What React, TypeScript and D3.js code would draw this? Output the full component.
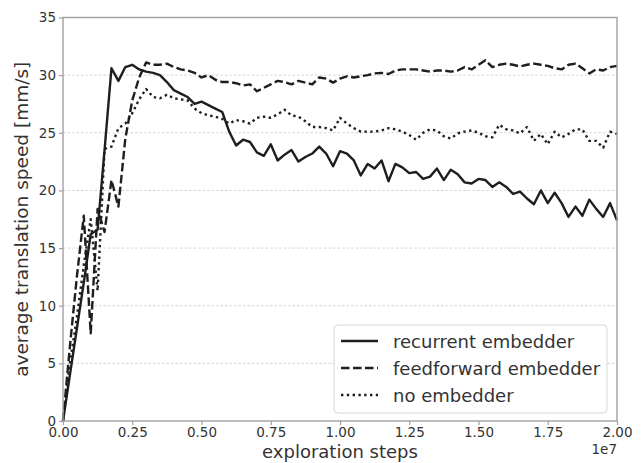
import React, { useEffect, useRef } from 'react'
import * as d3 from 'd3'

// sampled every 2.5e5 exploration steps
const STEP = 250000

const recurrent = [
  0, 4, 8, 12, 16.2, 16.6, 23.5, 30.6, 29.5, 30.7,
  30.9, 30.5, 30.3, 30.2, 30.0, 29.4, 28.7, 28.4, 28.1, 27.5,
  27.7, 27.4, 27.1, 26.8, 25.1, 23.9, 24.4, 24.2, 23.3, 23.0,
  24.0, 22.6, 23.1, 23.5, 22.5, 22.9, 23.2, 23.8, 23.2, 22.1,
  23.4, 23.2, 22.6, 21.3, 22.3, 21.9, 22.6, 20.8, 22.3, 22.0,
  21.5, 21.6, 21.0, 21.2, 21.9, 20.9, 21.8, 21.4, 20.7, 20.6,
  21.0, 20.9, 20.3, 20.7, 20.3, 19.7, 19.9, 19.3, 18.8, 20.0,
  18.9, 19.8, 18.9, 17.7, 18.6, 17.8, 19.2, 18.4, 17.7, 18.9,
  17.4,
]

const feedforward = [
  0, 6.5, 12.5, 17.8, 7.6, 18.4, 16.4, 20.9, 18.6, 24.5,
  27.8, 29.8, 31.1, 30.9, 30.9, 31.0, 30.7, 30.5, 30.4, 30.2,
  29.8, 30.0, 29.6, 29.4, 29.4, 29.3, 29.1, 29.2, 28.6, 28.9,
  29.2, 29.5, 29.4, 29.2, 29.5, 29.35, 29.2, 29.8, 29.7, 29.35,
  29.7, 29.9, 29.8, 29.9, 30.0, 30.15, 30.2, 30.1, 30.4, 30.5,
  30.5, 30.5, 30.4, 30.3, 30.4, 30.4, 30.3, 30.4, 30.7, 30.5,
  30.9, 31.3, 30.7, 30.9, 31.0, 30.9, 30.75, 30.9, 31.0, 30.9,
  30.8, 30.6, 30.5, 30.9, 31.0, 30.6, 30.15, 30.5, 30.4, 30.7,
  30.8,
]

const noEmbedder = [
  0, 5, 9, 13.5, 17.5, 11.3, 23.6, 23.8, 25.4, 25.8,
  26.7, 27.9, 28.8, 28.1, 28.0, 28.3, 28.0, 27.9, 27.8, 27.1,
  26.7, 26.5, 26.4, 26.2, 25.8, 26.1, 26.0, 25.8, 26.3, 26.4,
  26.3, 26.6, 27.0, 26.5, 26.4, 26.0, 25.5, 25.5, 25.4, 25.2,
  26.3, 25.8, 25.4, 25.1, 25.1, 25.1, 25.2, 25.4, 25.3, 25.1,
  24.8, 24.4, 25.0, 25.3, 25.2, 24.7, 24.5, 24.95, 25.1, 25.2,
  25.0, 24.7, 24.6, 25.7, 25.3, 25.2, 24.95, 25.5, 24.3, 24.9,
  24.0, 25.1, 24.6, 24.9, 25.3, 25.3, 24.3, 24.3, 23.7, 25.1,
  24.9,
]

const seriesNames = ['recurrent embedder', 'feedforward embedder', 'no embedder']
const xTicks = [0, 0.25e7, 0.5e7, 0.75e7, 1.0e7, 1.25e7, 1.5e7, 1.75e7, 2.0e7]
const xTickLabels = ['0.00', '0.25', '0.50', '0.75', '1.00', '1.25', '1.50', '1.75', '2.00']
const yTicks = [0, 5, 10, 15, 20, 25, 30, 35]

const App = () => {
  const svgRef = useRef(null)

  useEffect(() => {
    const width = 642
    const height = 463
    const margin = { top: 17.5, right: 25, bottom: 42, left: 63 }
    const font = 'DejaVu Sans, sans-serif'
    const ink = '#1e1e1e'
    const spine = '#a0a0a0'

    const svg = d3.select(svgRef.current)
    svg.selectAll('*').remove()
    svg.attr('width', width).attr('height', height)

    const x = d3.scaleLinear().domain([0, 2.0e7]).range([margin.left, width - margin.right])
    const y = d3.scaleLinear().domain([0, 35]).range([height - margin.bottom, margin.top])

    // grid
    svg
      .append('g')
      .selectAll('line')
      .data(yTicks.filter((d) => d > 0 && d < 35))
      .enter()
      .append('line')
      .attr('x1', x(0))
      .attr('x2', x(2.0e7))
      .attr('y1', (d) => y(d))
      .attr('y2', (d) => y(d))
      .attr('stroke', '#c8c8c8')
      .attr('stroke-width', 0.8)
      .attr('stroke-dasharray', '2.5,2')

    // lines
    const styles = [
      { data: recurrent, dash: null },
      { data: feedforward, dash: '8.5,3.5' },
      { data: noEmbedder, dash: '2.4,3.4' },
    ]
    const line = d3
      .line<number>()
      .x((d, i) => x(i * STEP))
      .y((d) => y(d))

    const plot = svg.append('g')
    styles.forEach((s) => {
      plot
        .append('path')
        .datum(s.data)
        .attr('d', line)
        .attr('fill', 'none')
        .attr('stroke', ink)
        .attr('stroke-width', 2.4)
        .attr('stroke-linejoin', 'round')
        .attr('stroke-dasharray', s.dash)
    })

    // frame
    svg
      .append('rect')
      .attr('x', x(0))
      .attr('y', y(35))
      .attr('width', x(2.0e7) - x(0))
      .attr('height', y(0) - y(35))
      .attr('fill', 'none')
      .attr('stroke', spine)
      .attr('stroke-width', 1.4)

    // axes
    const xAxis = d3
      .axisBottom(x)
      .tickValues(xTicks)
      .tickFormat((d, i) => xTickLabels[i])
      .tickSize(4)
      .tickPadding(2)
    const gx = svg.append('g').attr('transform', `translate(0, ${y(0)})`).call(xAxis)
    const yAxis = d3.axisLeft(y).tickValues(yTicks).tickSize(4).tickPadding(3)
    const gy = svg.append('g').attr('transform', `translate(${x(0)}, 0)`).call(yAxis)
    ;[gx, gy].forEach((g) => {
      g.select('.domain').remove()
      g.selectAll('line').attr('stroke', spine).attr('stroke-width', 1.2)
      g.selectAll('text')
        .attr('fill', '#333')
        .style('font-family', font)
        .style('font-size', '13.5px')
    })

    // labels
    svg
      .append('text')
      .attr('x', (x(0) + x(2.0e7)) / 2)
      .attr('y', 458)
      .attr('text-anchor', 'middle')
      .attr('fill', '#333')
      .style('font-family', font)
      .style('font-size', '18px')
      .text('exploration steps')

    svg
      .append('text')
      .attr('transform', `translate(28, ${(y(0) + y(35)) / 2}) rotate(-90)`)
      .attr('text-anchor', 'middle')
      .attr('fill', '#333')
      .style('font-family', font)
      .style('font-size', '18.5px')
      .text('average translation speed [mm/s]')

    svg
      .append('text')
      .attr('x', x(2.0e7))
      .attr('y', 454)
      .attr('text-anchor', 'end')
      .attr('fill', '#333')
      .style('font-family', font)
      .style('font-size', '13.5px')
      .text('1e7')

    // legend
    const legend = svg.append('g').attr('transform', 'translate(334, 325)')
    legend
      .append('rect')
      .attr('width', 273)
      .attr('height', 88)
      .attr('rx', 4)
      .attr('fill', 'rgba(255,255,255,0.85)')
      .attr('stroke', '#d6d6d6')
      .attr('stroke-width', 1)
    seriesNames.forEach((name, i) => {
      const cy = 16 + i * 27
      legend
        .append('line')
        .attr('x1', 7)
        .attr('x2', 44)
        .attr('y1', cy)
        .attr('y2', cy)
        .attr('stroke', ink)
        .attr('stroke-width', 2.4)
        .attr('stroke-dasharray', styles[i].dash)
      legend
        .append('text')
        .attr('x', 59)
        .attr('y', cy + 6.5)
        .attr('fill', '#333')
        .style('font-family', font)
        .style('font-size', '18px')
        .text(name)
    })
  }, [])

  return <svg ref={svgRef} style={{ position: 'absolute', left: 0, top: 0 }}></svg>
}

export default App
